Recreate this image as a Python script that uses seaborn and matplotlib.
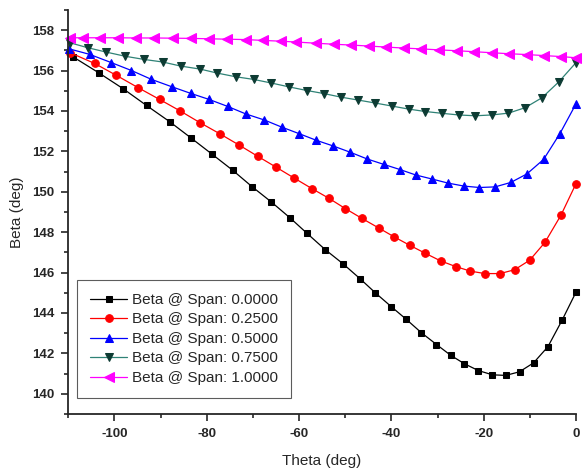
import numpy as np
import pandas as pd
import matplotlib
matplotlib.use("Agg")
import matplotlib.pyplot as plt
import seaborn as sns
from matplotlib.ticker import MultipleLocator

# values
theta_00 = [-108.98, -103.41, -98.11, -93.04, -88.04, -83.33, -78.85, -74.41, -70.17, -65.98,
            -61.96, -58.26, -54.35, -50.50, -46.80, -43.48, -40.00, -36.74, -33.48, -30.22,
            -27.17, -24.20, -21.15, -18.11, -15.22, -12.24, -9.20, -6.09, -3.04, 0.0]
beta_00 = [156.68, 155.89, 155.10, 154.27, 153.47, 152.65, 151.86, 151.07, 150.25, 149.49,
           148.71, 147.94, 147.14, 146.44, 145.70, 145.00, 144.31, 143.68, 143.02, 142.44,
           141.91, 141.49, 141.15, 140.94, 140.91, 141.09, 141.53, 142.33, 143.63, 145.03]

theta_25 = [-109.57, -104.28, -99.57, -94.85, -90.22, -85.76, -81.46, -77.17, -72.98, -68.98,
            -65.00, -61.15, -57.24, -53.48, -50.00, -46.37, -42.76, -39.41, -36.02, -32.61,
            -29.35, -26.09, -22.87, -19.72, -16.46, -13.30, -10.04, -6.74, -3.26, 0.0]
beta_25 = [156.88, 156.35, 155.76, 155.15, 154.57, 154.00, 153.42, 152.87, 152.31, 151.76,
           151.22, 150.69, 150.16, 149.67, 149.17, 148.68, 148.21, 147.77, 147.35, 146.95,
           146.58, 146.30, 146.07, 145.95, 145.95, 146.14, 146.61, 147.49, 148.84, 150.40]

theta_50 = [-109.93, -105.37, -100.65, -96.30, -91.96, -87.61, -83.48, -79.50, -75.43, -71.52,
            -67.50, -63.76, -60.04, -56.30, -52.54, -48.85, -45.22, -41.59, -38.15, -34.72,
            -31.20, -27.76, -24.28, -20.93, -17.54, -14.13, -10.65, -7.02, -3.48, 0.0]
beta_50 = [157.08, 156.80, 156.39, 156.00, 155.56, 155.20, 154.87, 154.57, 154.22, 153.85,
           153.55, 153.20, 152.88, 152.55, 152.26, 151.95, 151.62, 151.35, 151.10, 150.83,
           150.63, 150.43, 150.28, 150.21, 150.24, 150.46, 150.88, 151.60, 152.88, 154.35]

theta_75 = [-109.72, -105.80, -101.74, -97.76, -93.63, -89.50, -85.65, -81.41, -77.67, -73.70,
            -69.85, -65.98, -62.17, -58.30, -54.63, -50.87, -47.24, -43.48, -39.85, -36.24,
            -32.61, -28.96, -25.43, -21.80, -18.26, -14.63, -11.02, -7.39, -3.76, 0.0]
beta_75 = [157.38, 157.13, 156.91, 156.71, 156.55, 156.42, 156.22, 156.07, 155.87, 155.69,
           155.56, 155.38, 155.19, 155.01, 154.86, 154.68, 154.54, 154.39, 154.24, 154.09,
           153.97, 153.88, 153.80, 153.76, 153.80, 153.89, 154.16, 154.65, 155.43, 156.39]

theta_100 = [-109.57, -106.74, -103.04, -99.24, -95.33, -91.41, -87.39, -83.48, -79.50, -75.50,
             -71.52, -67.83, -63.91, -60.65, -56.30, -52.46, -48.70, -44.85, -41.09, -37.24,
             -33.48, -29.63, -25.87, -22.02, -18.26, -14.50, -10.65, -7.02, -3.20, 0.0]
beta_100 = [157.62, 157.62, 157.62, 157.62, 157.61, 157.61, 157.60, 157.59, 157.57, 157.55,
            157.53, 157.49, 157.45, 157.41, 157.35, 157.30, 157.26, 157.21, 157.16, 157.11,
            157.07, 157.02, 156.98, 156.93, 156.88, 156.83, 156.79, 156.74, 156.69, 156.63]

labels = ["Beta @ Span: 0.0000", "Beta @ Span: 0.2500", "Beta @ Span: 0.5000",
          "Beta @ Span: 0.7500", "Beta @ Span: 1.0000"]

sns.set_style("ticks")
plt.rcParams['font.family'] = ['Liberation Sans', 'DejaVu Sans']
plt.rcParams['axes.unicode_minus'] = False

fig = plt.figure(figsize=(5.83, 4.71), dpi=100)
ax = fig.add_axes([0.117, 0.121, 0.871, 0.858])

series = [
    (theta_00, beta_00, 's', 'black', 'black', 4.5),
    (theta_25, beta_25, 'o', '#ff0000', '#ff0000', 5.5),
    (theta_50, beta_50, '^', '#0000ff', '#0000ff', 6),
    (theta_75, beta_75, 'v', '#2f8276', '#0d3b33', 6),
    (theta_100, beta_100, '<', '#ff00ff', '#ff00ff', 6.5),
]
for (tx, by, mk, lc, mc, ms), lab in zip(series, labels):
    df = pd.DataFrame({'Theta': tx, 'Beta': by})
    sns.lineplot(data=df, x='Theta', y='Beta', ax=ax, color=lc, marker=mk,
                 markersize=ms, markerfacecolor=mc, markeredgecolor=mc,
                 linewidth=0.9, label=lab, clip_on=False)

ax.set_xlim(-110, 0)
ax.set_ylim(139, 159)
ax.xaxis.set_major_locator(MultipleLocator(20))
ax.xaxis.set_minor_locator(MultipleLocator(10))
ax.yaxis.set_major_locator(MultipleLocator(2))
ax.yaxis.set_minor_locator(MultipleLocator(1))
ax.tick_params(which='major', length=5, width=1.2, labelsize=9.5, pad=5)
ax.tick_params(which='minor', length=3, width=1.2)
for t in ax.get_xticklabels() + ax.get_yticklabels():
    t.set_fontweight('bold')
for s in ['left', 'bottom']:
    ax.spines[s].set_linewidth(1.3)
sns.despine(ax=ax)

ax.set_xlabel('Theta (deg)', fontsize=11, labelpad=10)
ax.set_ylabel('Beta (deg)', fontsize=11, labelpad=6)

leg = ax.legend(loc='lower left', bbox_to_anchor=(0.018, 0.04), borderaxespad=0,
                fontsize=11, frameon=True, fancybox=False, edgecolor='#333333',
                handlelength=2.4, labelspacing=0.36, borderpad=0.85, handletextpad=0.35)
leg.get_frame().set_linewidth(0.8)

fig.savefig('out.png', dpi=100)
